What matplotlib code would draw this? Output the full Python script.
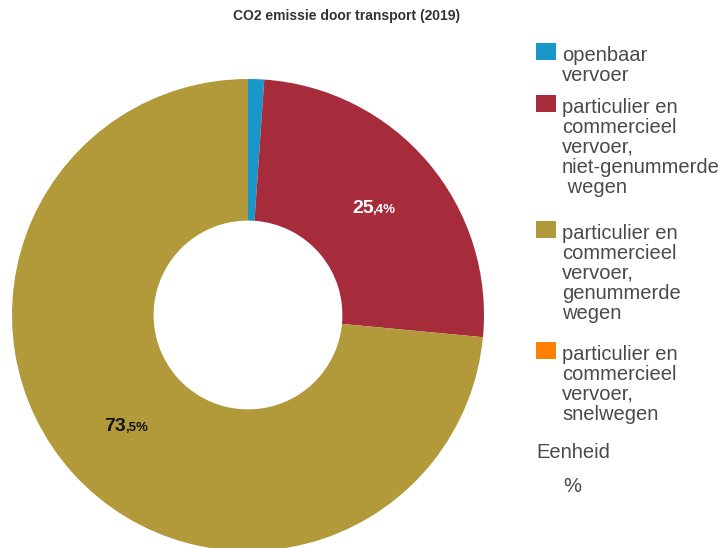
import matplotlib
matplotlib.use("Agg")
import matplotlib.pyplot as plt
from matplotlib.patches import Rectangle
from matplotlib.offsetbox import TextArea, HPacker, AnnotationBbox
import numpy as np

plt.rcParams['font.family'] = ['Liberation Sans', 'DejaVu Sans']

title = "CO2 emissie door transport (2019)"
categories = [
    "openbaar\nvervoer",
    "particulier en\ncommercieel\nvervoer,\nniet-genummerde\n wegen",
    "particulier en\ncommercieel\nvervoer,\ngenummerde\nwegen",
    "particulier en\ncommercieel\nvervoer,\nsnelwegen",
]
values = [1.1, 25.4, 73.5, 0.0]
colors = ["#1897c8", "#a72c3b", "#b2993a", "#ff8000"]
label_colors = [None, "white", "#151515", None]
unit_title = "Eenheid"
unit = "%"

W, H = 724, 548
fig = plt.figure(figsize=(W / 100, H / 100), dpi=100)
ax = fig.add_axes([0, 0, 1, 1])


def fy(y):
    # top-down pixel row to axis coordinate
    return H - y


cx, cy, R = 248, fy(315), 236
ring = 0.6 * R
ax.pie(values, colors=colors, startangle=90, counterclock=False,
       radius=R, center=(cx, cy),
       wedgeprops=dict(width=ring, linewidth=0))
ax.set_xlim(0, W)
ax.set_ylim(0, H)
ax.set_aspect('auto')
ax.axis('off')

# value labels at the middle of each sizeable wedge
total = sum(values)
start = 0.0
for v, lc in zip(values, label_colors):
    mid = (start + v / 2) / total * 2 * np.pi
    start += v
    if lc is None or v <= 0:
        continue
    r = 165
    x = cx + r * np.sin(mid)
    y = cy + r * np.cos(mid)
    whole, frac = f"{v:.1f}".split(".")
    big = TextArea(whole, textprops=dict(color=lc, fontsize=14, fontweight='bold'))
    small = TextArea("," + frac + "%", textprops=dict(color=lc, fontsize=9.5, fontweight='bold'))
    box = HPacker(children=[big, small], align="baseline", pad=0, sep=-1)
    ab = AnnotationBbox(box, (x, y), frameon=False, box_alignment=(0.5, 0.5),
                        xycoords='data', pad=0)
    ax.add_artist(ab)

ax.text(347, fy(16), title, ha='center', va='center', fontsize=10,
        fontweight='bold', color='#333333')

# legend
legend_tops = [43, 95, 221, 342]
text_color = '#4a4a4a'
for lab, col, top in zip(categories, colors, legend_tops):
    ax.add_patch(Rectangle((536, fy(top + 17)), 20, 17, facecolor=col,
                           edgecolor='none'))
    ax.text(562, fy(top + 3), lab, ha='left', va='top', fontsize=14.5,
            color=text_color, linespacing=1.06)

ax.text(536, fy(453), unit_title, ha='left', va='center', fontsize=14.5,
        color=text_color)
ax.text(563, fy(487), unit, ha='left', va='center', fontsize=14.5,
        color=text_color)

fig.savefig("out.png", dpi=100)
